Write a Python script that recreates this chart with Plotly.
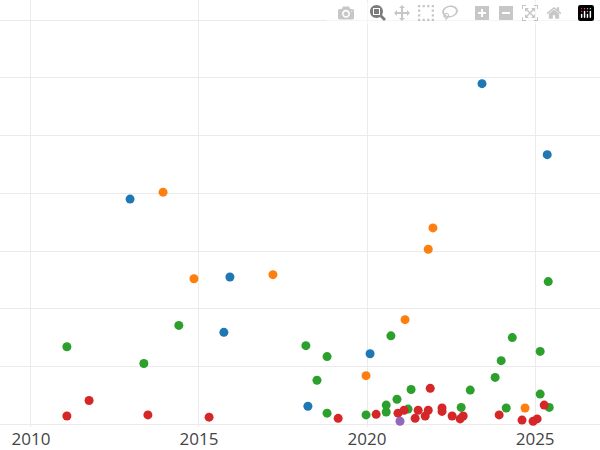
import plotly.graph_objects as go

blue_x = [2012.95, 2015.92, 2015.74, 2018.24, 2020.09, 2023.42, 2025.36]
blue_y = [3.90, 2.55, 1.59, 0.31, 1.22, 5.90, 4.67]
orange_x = [2013.93, 2014.85, 2017.20, 2019.97, 2021.13, 2021.82, 2021.96, 2024.70]
orange_y = [4.02, 2.52, 2.59, 0.84, 1.81, 3.03, 3.40, 0.28]
green_x = [2011.07, 2013.36, 2014.40, 2018.18, 2018.51, 2018.81, 2018.81, 2019.97, 2020.57, 2020.57,
           2020.71, 2020.89, 2021.22, 2021.31, 2022.80, 2023.07, 2023.81, 2023.99, 2024.14, 2024.32,
           2025.15, 2025.15, 2025.39, 2025.42]
green_y = [1.34, 1.05, 1.71, 1.36, 0.76, 1.17, 0.19, 0.16, 0.33, 0.21,
           1.53, 0.43, 0.26, 0.60, 0.29, 0.59, 0.81, 1.10, 0.28, 1.50,
           1.26, 0.52, 2.47, 0.29]
red_x = [2011.07, 2011.73, 2013.48, 2015.30, 2019.14, 2020.27, 2020.92, 2021.10, 2021.43, 2021.52,
         2021.73, 2021.82, 2021.88, 2022.23, 2022.23, 2022.53, 2022.77, 2022.86, 2023.93, 2024.61,
         2024.94, 2025.06, 2025.27]
red_y = [0.14, 0.41, 0.16, 0.12, 0.10, 0.17, 0.19, 0.24, 0.10, 0.24,
         0.14, 0.24, 0.62, 0.28, 0.22, 0.14, 0.09, 0.14, 0.16, 0.07,
         0.05, 0.09, 0.33]
purple_x = [2020.98]
purple_y = [0.05]

series = [
    (blue_x, blue_y, "#1f77b4"),
    (orange_x, orange_y, "#ff7f0e"),
    (green_x, green_y, "#2ca02c"),
    (red_x, red_y, "#d62728"),
    (purple_x, purple_y, "#9467bd"),
]

fig = go.Figure()
for xs, ys, c in series:
    fig.add_trace(go.Scatter(x=xs, y=ys, mode="markers",
                             marker=dict(color=c, size=9), showlegend=False))

fig.update_layout(
    width=600, height=450, template="plotly_white",
    margin=dict(l=0, r=0, t=0, b=20),
    font=dict(family="Open Sans", size=17, color="#444"),
    xaxis=dict(range=[2009.08, 2026.93], tickvals=[2010, 2015, 2020, 2025],
               showgrid=True, gridcolor="#ebebeb", zeroline=False),
    yaxis=dict(range=[-0.05, 7.35], dtick=1, showticklabels=False,
               gridcolor="#ebebeb", zeroline=False),
)
fig.write_html("out.html", post_script="document.body.style.margin='0px';")
